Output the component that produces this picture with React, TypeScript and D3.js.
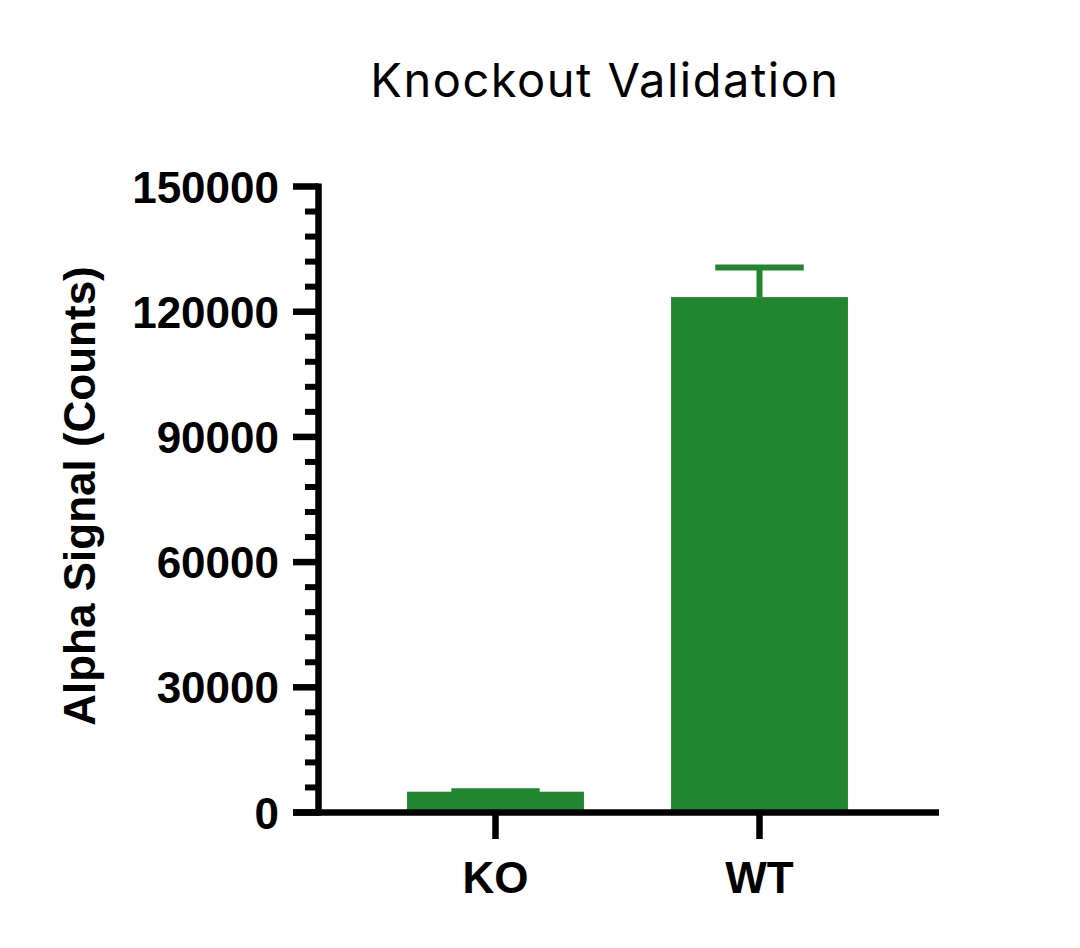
import React from "react";
import * as d3 from "d3";

const categories: string[] = ["KO", "WT"];
const means: number[] = [4980, 123500];
const errors: number[] = [100, 7100];
const majorTicks: number[] = [0, 30000, 60000, 90000, 120000, 150000];
const minorStep = 6000;
const title = "Knockout Validation";
const yTitle = "Alpha Signal (Counts)";

const W = 1080;
const H = 948;
const GREEN = "#22862e";
const BOLD = "'Liberation Sans', Arial, Helvetica, sans-serif";

export default function App() {
  const y = d3.scaleLinear().domain([0, 150000]).range([812.5, 186.5]);
  const x = d3.scaleBand<string>().domain(categories).range([363.5, 891.5]).padding(0);
  const barW = x.bandwidth() * 0.67;
  const axisX = 318.5;
  const minorTicks = d3.range(0, 150000 + 1, minorStep).filter((v) => v % 30000 !== 0);

  return (
    <svg
      width={W}
      height={H}
      viewBox={`0 0 ${W} ${H}`}
      style={{ position: "absolute", left: 0, top: 0, background: "#fff" }}
    >
      <rect x={0} y={0} width={W} height={H} fill="#fff" />
      <text
        x={605}
        y={97}
        textAnchor="middle"
        fontFamily="Inter, 'Noto Sans', sans-serif"
        fontSize={47}
        letterSpacing={1.5}
        fill="#000"
      >
        {title}
      </text>

      {/* error bars (behind bars) */}
      {categories.map((c, i) => {
        const cx = (x(c) as number) + x.bandwidth() / 2;
        const top = y(means[i] + errors[i]);
        return (
          <g key={"e" + c} stroke={GREEN} strokeWidth={6}>
            <line x1={cx} x2={cx} y1={y(means[i])} y2={top} />
            <line x1={cx - barW / 4} x2={cx + barW / 4} y1={top} y2={top} />
          </g>
        );
      })}

      {/* bars */}
      {categories.map((c, i) => {
        const cx = (x(c) as number) + x.bandwidth() / 2;
        return (
          <rect
            key={"b" + c}
            x={cx - barW / 2}
            y={y(means[i])}
            width={barW}
            height={y(0) - y(means[i])}
            fill={GREEN}
          />
        );
      })}

      {/* y axis */}
      <line x1={axisX} x2={axisX} y1={y(150000) - 3} y2={y(0) + 3} stroke="#000" strokeWidth={6.5} />
      {majorTicks.map((t) => (
        <g key={"mt" + t}>
          <line x1={293} x2={axisX} y1={y(t)} y2={y(t)} stroke="#000" strokeWidth={6.5} />
          <text
            x={279}
            y={y(t) + 16}
            textAnchor="end"
            fontFamily={BOLD}
            fontWeight="bold"
            fontSize={44}
            fill="#000"
          >
            {t}
          </text>
        </g>
      ))}
      {minorTicks.map((t) => (
        <line key={"mn" + t} x1={305} x2={axisX} y1={y(t)} y2={y(t)} stroke="#000" strokeWidth={6} />
      ))}

      {/* x axis */}
      <line x1={293} x2={939} y1={y(0)} y2={y(0)} stroke="#000" strokeWidth={6.5} />
      {categories.map((c) => {
        const cx = (x(c) as number) + x.bandwidth() / 2;
        return (
          <g key={"xt" + c}>
            <line x1={cx} x2={cx} y1={y(0)} y2={839} stroke="#000" strokeWidth={6.5} />
            <text
              x={cx}
              y={893}
              textAnchor="middle"
              fontFamily={BOLD}
              fontWeight="bold"
              fontSize={44}
              fill="#000"
            >
              {c}
            </text>
          </g>
        );
      })}

      <text
        transform={`translate(95, 496) rotate(-90)`}
        textAnchor="middle"
        fontFamily={BOLD}
        fontWeight="bold"
        fontSize={44}
        fill="#000"
      >
        {yTitle}
      </text>
    </svg>
  );
}
